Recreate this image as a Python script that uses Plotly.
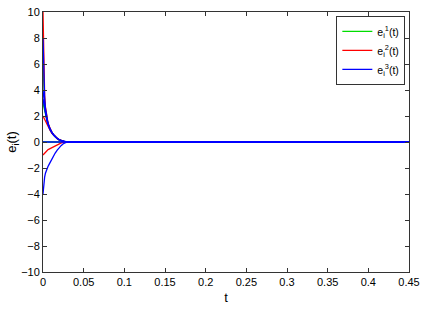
import plotly.graph_objects as go

t = [0, 0.0005, 0.001, 0.0015, 0.002, 0.003, 0.004, 0.005, 0.006, 0.0075, 0.009,
     0.011, 0.013, 0.015, 0.0175, 0.02, 0.0225, 0.025, 0.0275, 0.03, 0.45]

# component 1 (green)
g1 = [6, 5.1, 4.3, 3.7, 3.1, 2.45, 2.0, 1.7, 1.44, 1.16, 0.94, 0.72, 0.55, 0.4, 0.27, 0.17, 0.1, 0.05, 0.015, 0, 0]
g2 = [3, 2.85, 2.7, 2.55, 2.4, 2.1, 1.8, 1.56, 1.35, 1.1, 0.9, 0.69, 0.53, 0.39, 0.26, 0.16, 0.1, 0.05, 0.015, 0, 0]
g3 = [0, 0, 0, 0, 0, 0, 0, 0, 0, 0, 0, 0, 0, 0, 0, 0, 0, 0, 0, 0, 0]
# component 2 (red)
r1 = [10, 7.2, 5.5, 4.4, 3.6, 2.7, 2.15, 1.8, 1.52, 1.22, 0.98, 0.75, 0.57, 0.42, 0.28, 0.18, 0.1, 0.05, 0.015, 0, 0]
r2 = [2, 1.93, 1.86, 1.79, 1.72, 1.58, 1.45, 1.33, 1.21, 1.04, 0.87, 0.67, 0.52, 0.38, 0.25, 0.16, 0.09, 0.045, 0.012, 0, 0]
r3 = [-1, -0.96, -0.92, -0.88, -0.85, -0.78, -0.72, -0.66, -0.6, -0.55, -0.5, -0.43, -0.35, -0.27, -0.19, -0.12, -0.07, -0.035, -0.01, 0, 0]
# component 3 (blue)
b1 = [8, 6.3, 5.0, 4.1, 3.4, 2.6, 2.1, 1.75, 1.48, 1.19, 0.96, 0.73, 0.56, 0.41, 0.27, 0.17, 0.1, 0.05, 0.015, 0, 0]
b2 = [4, 3.65, 3.3, 3.0, 2.75, 2.3, 1.92, 1.64, 1.4, 1.13, 0.92, 0.7, 0.54, 0.4, 0.26, 0.17, 0.1, 0.05, 0.015, 0, 0]
b3 = [3.3, 3.1, 2.9, 2.72, 2.55, 2.2, 1.86, 1.6, 1.38, 1.12, 0.91, 0.7, 0.54, 0.39, 0.26, 0.16, 0.1, 0.05, 0.015, 0, 0]
b4 = [-4, -3.5, -3.15, -2.9, -2.7, -2.4, -2.2, -2.03, -1.9, -1.72, -1.52, -1.28, -1.05, -0.85, -0.62, -0.42, -0.26, -0.13, -0.04, 0, 0]
b5 = [0, 0, 0, 0, 0, 0, 0, 0, 0, 0, 0, 0, 0, 0, 0, 0, 0, 0, 0, 0, 0]

xticks = [0, 0.05, 0.1, 0.15, 0.2, 0.25, 0.3, 0.35, 0.4, 0.45]
xticklabels = ["0", "0.05", "0.1", "0.15", "0.2", "0.25", "0.3", "0.35", "0.4", "0.45"]
yticks = [-10, -8, -6, -4, -2, 0, 2, 4, 6, 8, 10]

groups = [
    ("e<sub>i</sub><sup>1</sup>(t)", "#00dd00", [g1, g2, g3]),
    ("e<sub>i</sub><sup>2</sup>(t)", "#ff0000", [r1, r2, r3]),
    ("e<sub>i</sub><sup>3</sup>(t)", "#0000ff", [b1, b2, b3, b4, b5]),
]

FONT = "Liberation Sans, Arial, sans-serif"
fig = go.Figure()
for name, col, series in groups:
    for k, s in enumerate(series):
        fig.add_trace(go.Scatter(x=t, y=s, mode="lines", name=name,
                                 line=dict(color=col, width=1.3),
                                 legendgroup=name, showlegend=(k == 0)))

axis_common = dict(showline=True, linecolor="#333333", linewidth=1, mirror="ticks",
                   ticks="inside", ticklen=4, tickcolor="#333333", showgrid=False,
                   zeroline=False, automargin=False, ticklabeloverflow="allow",
                   tickfont=dict(family=FONT, size=11, color="#000"))
fig.update_xaxes(range=[0, 0.45], tickvals=xticks, ticktext=xticklabels,
                 title=dict(text="t", font=dict(family=FONT, size=13, color="#000"), standoff=5),
                 **axis_common)
fig.update_yaxes(range=[-10, 10], tickvals=yticks,
                 title=dict(text="e<sub>i</sub>(t)", font=dict(family=FONT, size=13, color="#000"), standoff=1),
                 **axis_common)
fig.update_layout(width=425, height=310, margin=dict(l=43, r=16, t=12, b=38),
                  plot_bgcolor="white", paper_bgcolor="white",
                  legend=dict(x=0.99, y=0.985, xanchor="right", yanchor="top",
                              bordercolor="#333333", borderwidth=1, bgcolor="white",
                              font=dict(family=FONT, size=10.5, color="#000"),
                              tracegroupgap=0, itemwidth=30))
# remove the browser's default 8px body margin so the figure sits at the window origin
fig.write_html("out.html", config={"displayModeBar": False},
               post_script="document.body.style.margin='0';")
